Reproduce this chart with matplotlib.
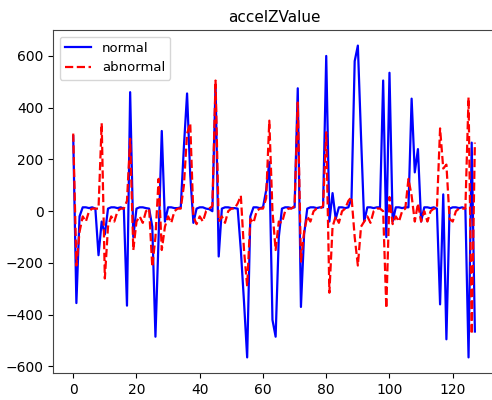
import matplotlib
matplotlib.use("Agg")
import matplotlib.pyplot as plt
import numpy as np

title = "accelZValue"
labels = ["normal", "abnormal"]

normal = [290, -355, -20, 15, 15, 12, 15, 10, -170, -40,
          -90, 10, 15, 15, 12, 15, 10, -365, 460, -100,
          10, 15, 15, 12, 10, -60, -485, -100, 310, -40,
          15, 15, 12, 12, 15, 250, 455, 140, -45, 10,
          15, 15, 10, 8, 0, 490, -175, 10, 15, 15,
          12, 12, 10, -150, -350, -565, -20, 15, 15, 12,
          15, 80, 190, -420, -485, -100, 10, 15, 15, 12,
          15, 475, -370, -90, 10, 15, 15, 12, 15, 15,
          600, -40, 70, -30, 15, 15, 12, 15, 50, 580,
          640, 290, -40, 15, 15, 12, 15, 15, 505, -100,
          535, -40, 15, 15, 12, 15, 15, 435, 150, 240,
          -40, 15, 15, 12, 15, 10, -360, 65, -495, 10,
          15, 15, 12, 15, 10, -565, 265, -465]

abnormal = [300, -210, -80, -20, -40, 0, 10, 10, 10, 340,
            -260, -60, -20, -40, 0, 10, 10, 40, 280, -150,
            -40, -20, -45, 0, 10, -215, -100, 125, -150, -60,
            -20, -45, 0, 10, 10, 100, 300, 340, -20, -50,
            -20, -40, 0, 10, 20, 505, -40, -20, -45, 0,
            10, 10, 30, 60, -150, -290, -30, -45, 0, 10,
            10, 50, 350, 0, -150, -40, -45, 0, 10, 10,
            20, 420, -195, -80, -20, -40, 0, 10, 10, 20,
            305, -315, -60, -20, -45, 0, 10, 40, 55, -100,
            -210, -60, -40, -20, -45, 0, 10, 10, 0, -375,
            55, -50, -20, -40, 0, 10, 125, 60, -40, 30,
            -40, 0, -40, 0, 10, 10, 320, 165, 180, -30,
            -40, 0, 10, 10, 10, 440, -475, 265]

fig = plt.figure(figsize=(4.92, 4.0), dpi=100)
ax = fig.add_axes([0.108, 0.0675, 0.898, 0.8575])
x = np.arange(len(normal))
ax.plot(x, normal, "b-", label=labels[0], linewidth=1.6)
ax.plot(np.arange(len(abnormal)), abnormal, "r--", label=labels[1], linewidth=1.6)
ax.set_title(title, fontsize=11)
ax.legend(loc="upper left", fontsize=9.5)
ax.tick_params(labelsize=10)
for s in ax.spines.values():
    s.set_color("#444444")
fig.savefig("out.png", dpi=100)
